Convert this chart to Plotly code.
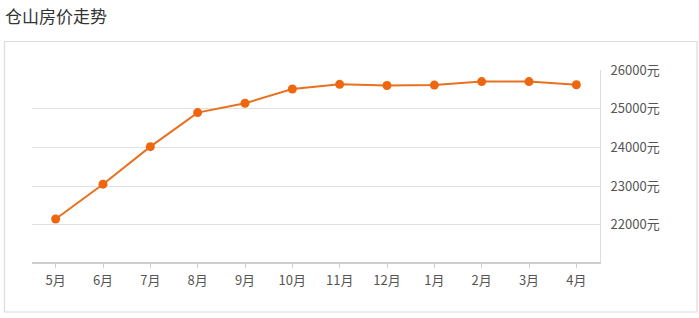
import plotly.graph_objects as go

months = ["5月", "6月", "7月", "8月", "9月", "10月", "11月", "12月", "1月", "2月", "3月", "4月"]
prices = [22150, 23050, 24020, 24900, 25140, 25510, 25630, 25600, 25610, 25700, 25700, 25620]
y_ticks = [22000, 23000, 24000, 25000, 26000]
y_labels = [f"{v}元" for v in y_ticks]
title = "仓山房价走势"

W, H = 699, 318
L, R, T, B = 32, 600, 70, 262

fig = go.Figure()
fig.add_trace(go.Scatter(
    x=months, y=prices, mode="lines+markers",
    line=dict(color="#e8701e", width=2),
    marker=dict(color="#f0660f", size=9),
    hoverinfo="skip",
))

def px_x(x):
    return (x - L) / (R - L)

def px_y(y):
    return (B - y) / (B - T)

fig.add_shape(type="rect", xref="paper", yref="paper",
              x0=px_x(4.5), x1=px_x(697), y0=px_y(312), y1=px_y(41.5),
              line=dict(color="#dcdcdc", width=1.2), fillcolor="rgba(0,0,0,0)", layer="below")
fig.add_annotation(text=title, xref="paper", yref="paper",
                   x=px_x(3), y=px_y(15), xanchor="left", yanchor="middle",
                   showarrow=False, font=dict(size=17, color="#333333", family="Noto Sans CJK SC"))

fig.update_layout(
    width=W, height=H,
    margin=dict(l=L, r=W - R, t=T, b=H - B),
    paper_bgcolor="white", plot_bgcolor="white",
    showlegend=False,
    font=dict(family="Noto Sans CJK SC", color="#555555", size=13),
    xaxis=dict(
        type="category", range=[-0.5, 11.5],
        showgrid=False, showline=True, linecolor="#cfcfcf", linewidth=1.5,
        ticks="outside", ticklen=4, tickcolor="#cfcfcf",
        ticklabelstandoff=2,
        tickfont=dict(size=13, color="#555555"), zeroline=False,
    ),
    yaxis=dict(
        side="right", range=[21040, 26000],
        tickvals=y_ticks, ticktext=y_labels,
        showgrid=True, gridcolor="#e0e0e0", gridwidth=1,
        showline=True, linecolor="#dddddd", linewidth=1,
        ticks="", ticklabelstandoff=7,
        tickfont=dict(size=13, color="#555555"), zeroline=False,
    ),
)

fig.write_html("out.html")
